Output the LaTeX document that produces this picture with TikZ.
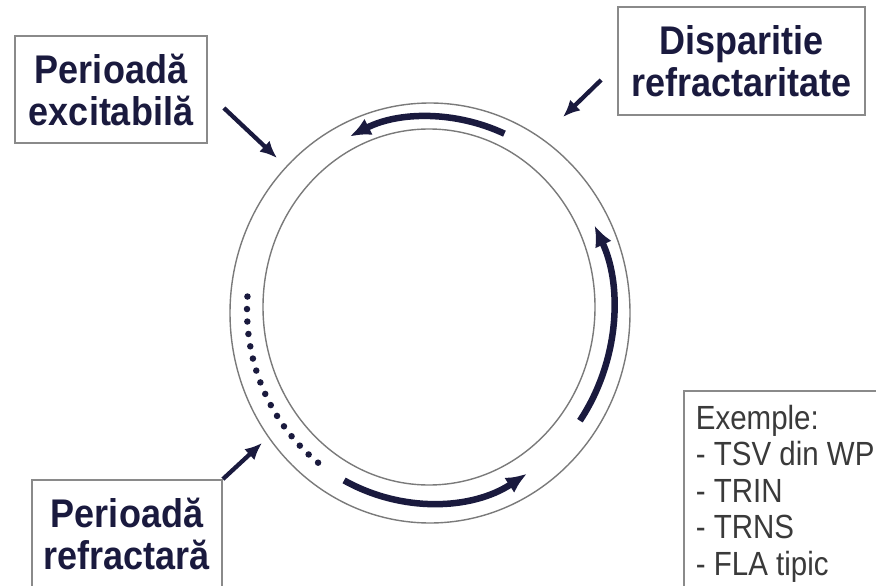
\documentclass[tikz,border=0pt]{standalone}
\usepackage{fontspec}
\setmainfont{Liberation Sans}
\newfontfamily\fuenteEtiqueta[FakeStretch=0.9]{Liberation Sans}
\newfontfamily\fuenteLista[FakeStretch=0.88]{Liberation Sans}
\usetikzlibrary{arrows.meta}
\definecolor{azulnoche}{HTML}{1A1A3E}
\definecolor{grisborde}{HTML}{8A8A8A}
\definecolor{grisanillo}{HTML}{7A7A7A}
\definecolor{grislista}{HTML}{3A3A3A}
\colorlet{colTexto}{azulnoche}
\colorlet{colFlecha}{azulnoche}
\tikzset{
  cajaEtiqueta/.style={
    draw=grisborde, line width=1.8pt, fill=white,
    align=center, inner sep=0pt, text=colTexto,
    font=\fuenteEtiqueta\bfseries\fontsize{40}{42}\selectfont
  },
  cajaLista/.style={
    draw=grisborde, line width=1.8pt, fill=white,
    align=left, inner xsep=12pt, inner ysep=14pt, text=grislista,
    font=\fuenteLista\fontsize{33.5}{36.5}\selectfont
  },
  anillo/.style={draw=grisanillo, line width=1.4pt},
  flechaAnillo/.style={-{Latex[length=21pt,width=18pt]}, line width=6.5pt, colFlecha},
  puntosAnillo/.style={line width=6.5pt, colFlecha, line cap=round, dash pattern=on 0pt off 12.5pt},
  flechaIndica/.style={-{Latex[length=17pt,width=15pt]}, line width=4.3pt, colFlecha},
}
\begin{document}
\begin{tikzpicture}[x=1pt, y=-1pt]
  \useasboundingbox (0,0) rectangle (876,586);
  \clip (0,0) rectangle (876,586);

  % anillo
  \draw[anillo] (430,313) ellipse [x radius=200, y radius=210];
  \draw[anillo] (429,307) ellipse [x radius=166, y radius=178];
  \coordinate (centro) at (430,310);

  % frente de activacion
  \draw[flechaAnillo] (centro) ++(-66:183 and 193) arc[start angle=-66, end angle=-116, x radius=183, y radius=193];
  \draw[flechaAnillo] (centro) ++(35:183 and 193) arc[start angle=35, end angle=-26, x radius=183, y radius=193];
  \draw[flechaAnillo] (centro) ++(118:183 and 193) arc[start angle=118, end angle=58, x radius=183, y radius=193];
  \draw[puntosAnillo] (centro) ++(-176:183 and 193) arc[start angle=-176, end angle=-234, x radius=183, y radius=193];

  % etiquetas
  \node[cajaEtiqueta, minimum width=192pt, minimum height=107pt] (excit) at (111,89.5) {Perioadă\\excitabilă};
  \node[cajaEtiqueta, minimum width=247pt, minimum height=108pt] (dispar) at (741.5,61) {Disparitie\\refractaritate};
  \node[cajaEtiqueta, minimum width=190pt, minimum height=108pt] (refract) at (127,534) {Perioadă\\refractară};
  \node[cajaLista, anchor=north west] (ejemplos) at (683,390) {Exemple:\\- TSV din WP\\- TRIN\\- TRNS\\- FLA tipic};

  \coordinate (puntaExcit) at (277,158);
  \coordinate (puntaDispar) at (563,117);
  \coordinate (puntaRefract) at (262,443);

  \draw[flechaIndica] ([xshift=16pt, yshift=-18.5pt]excit.east) -- (puntaExcit);
  \draw[flechaIndica] ([xshift=-16pt, yshift=-19pt]dispar.west) -- (puntaDispar);
  \draw[flechaIndica] (refract.north east) -- (puntaRefract);
\end{tikzpicture}
\end{document}
